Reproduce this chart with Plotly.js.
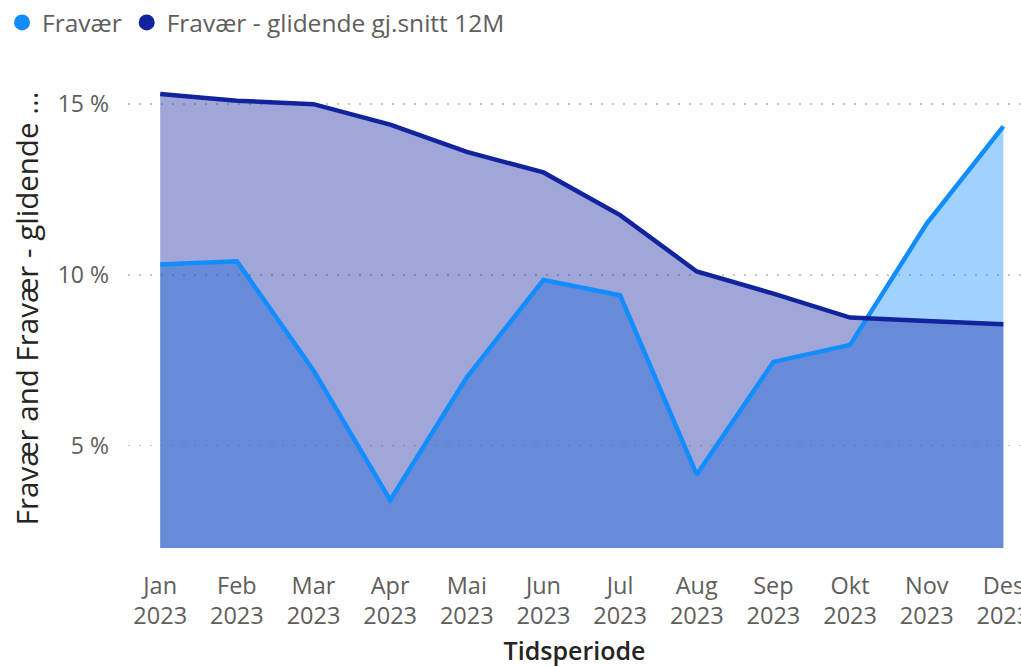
<!DOCTYPE html>
<html>
<head>
<meta charset="utf-8">
<script src="https://cdn.plot.ly/plotly-3.0.1.min.js"></script>
<style>html,body{margin:0;padding:0;background:#fff;}#chart{width:1021px;height:667px;}</style>
</head>
<body>
<div id="chart"></div>
<script>
const months = ["Jan<br>2023","Feb<br>2023","Mar<br>2023","Apr<br>2023","Mai<br>2023","Jun<br>2023","Jul<br>2023","Aug<br>2023","Sep<br>2023","Okt<br>2023","Nov<br>2023","Des<br>2023"];
const fravaer = [10.3, 10.4, 7.2, 3.4, 7.0, 9.85, 9.4, 4.15, 7.45, 7.95, 11.5, 14.35];
const glidende = [15.3, 15.1, 15.0, 14.4, 13.6, 13.0, 11.75, 10.1, 9.45, 8.75, 8.65, 8.55];
const seriesNames = ["Fravær", "Fravær - glidende gj.snitt 12M"];
const tickVals = [5, 10, 15];
const tickLabels = ["5 %", "10 %", "15 %"];

const idx = months.map((m, i) => i);
const font = "Open Sans, sans-serif";
const lightC = "#118DFF", darkC = "#12239E";

const traces = [
  {x: idx, y: fravaer, type: "scatter", mode: "none", fill: "tozeroy", fillcolor: "rgba(17,141,255,0.4)", showlegend: false, hoverinfo: "skip"},
  {x: idx, y: glidende, type: "scatter", mode: "none", fill: "tozeroy", fillcolor: "rgba(18,35,158,0.4)", showlegend: false, hoverinfo: "skip"},
  {x: idx, y: fravaer, type: "scatter", mode: "lines", line: {color: lightC, width: 4.5}, showlegend: false},
  {x: idx, y: glidende, type: "scatter", mode: "lines", line: {color: darkC, width: 4.5}, showlegend: false},
  {x: [null], y: [null], type: "scatter", mode: "markers", name: seriesNames[0], marker: {color: lightC, size: 16, symbol: "circle"}},
  {x: [null], y: [null], type: "scatter", mode: "markers", name: seriesNames[1], marker: {color: darkC, size: 16, symbol: "circle"}}
];

const layout = {
  width: 1021, height: 667,
  paper_bgcolor: "#fff", plot_bgcolor: "#fff",
  margin: {l: 128, r: 0, t: 70, b: 119, autoexpand: false},
  font: {family: font, color: "#605E5C"},
  showlegend: true,
  legend: {orientation: "h", xref: "container", yref: "container", x: 0.002, xanchor: "left", y: 1.0, yanchor: "top", font: {size: 24.5, color: "#605E5C"}, itemsizing: "trace", itemwidth: 30},
  xaxis: {
    range: [-0.42, 11.23], tickmode: "array", tickvals: idx, ticktext: months,
    showgrid: false, zeroline: false, showline: false, ticks: "", automargin: false,
    ticklabeloverflow: "allow", ticklabelstandoff: 21,
    tickfont: {size: 23.5, color: "#605E5C"},
    title: {text: "Tidsperiode", font: {size: 25, color: "#252423", weight: 600}, standoff: 13}
  },
  yaxis: {
    range: [2, 16], tickmode: "array", tickvals: tickVals, ticktext: tickLabels,
    showgrid: true, gridcolor: "#C8C6C4", griddash: "2px,9px", gridwidth: 1.5,
    zeroline: false, showline: false, ticks: "", ticklabelstandoff: 18, automargin: false,
    tickfont: {size: 23, color: "#605E5C"}
  },
  annotations: [{
    text: "Fravær and Fravær - glidende ...", textangle: -90,
    xref: "paper", yref: "paper", x: -0.114, y: 0.502, xanchor: "center", yanchor: "middle",
    showarrow: false, font: {size: 29.5, color: "#252423"}
  }]
};

Plotly.newPlot("chart", traces, layout, {displayModeBar: false, staticPlot: true});
</script>
</body>
</html>
